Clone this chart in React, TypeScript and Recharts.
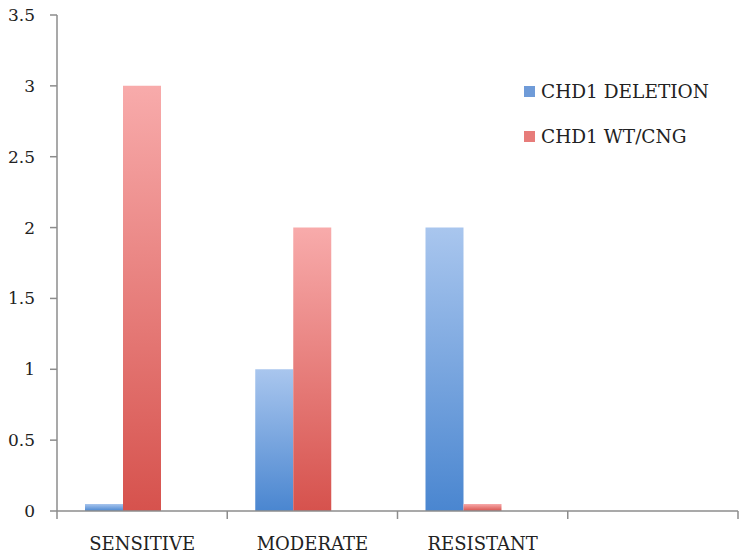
import { Bar, BarChart, Legend, XAxis, YAxis } from "recharts";

const categories = ["SENSITIVE", "MODERATE", "RESISTANT", ""];
const deletionValues = [0.05, 1, 2, null];
const wtCngValues = [3, 2, 0.05, null];
const yTicks = [0, 0.5, 1, 1.5, 2, 2.5, 3, 3.5];

const data = categories.map((name, i) => ({
  name,
  deletion: deletionValues[i],
  wtcng: wtCngValues[i],
  blank: null,
}));

const FONT = "'DejaVu Serif', serif";

// category label plus boundary tick marks (ticks sit between categories)
function CategoryTick(props: any) {
  const { x, y, payload, index } = props;
  const half = payload && payload.offset ? payload.offset : 170.25 / 2;
  return (
    <g>
      {index === 0 && (
        <line x1={x - half} y1={y - 8} x2={x - half} y2={y} stroke="#8c8c8c" strokeWidth={1.5} />
      )}
      <line x1={x + half} y1={y - 8} x2={x + half} y2={y} stroke="#8c8c8c" strokeWidth={1.5} />
      <text x={x} y={y + 31} textAnchor="middle" fill="#222" fontSize={18} fontFamily={FONT}>
        {payload.value}
      </text>
    </g>
  );
}

function LegendBox() {
  const items = [
    { label: "CHD1 DELETION", color: "#6f9bd8" },
    { label: "CHD1 WT/CNG", color: "#e77c7a" },
  ];
  return (
    <div style={{ fontFamily: FONT, fontSize: 18.5, color: "#222" }}>
      {items.map((it) => (
        <div key={it.label} style={{ display: "flex", alignItems: "center", height: 45 }}>
          <span style={{ width: 11, height: 11, background: it.color, marginRight: 6, display: "inline-block" }} />
          {it.label}
        </div>
      ))}
    </div>
  );
}

export default function App() {
  return (
    <div style={{ position: "absolute", left: 0, top: 0, background: "#fff" }}>
      <BarChart
        width={750}
        height={555}
        data={data}
        margin={{ top: 15, right: 12, left: 0, bottom: 0 }}
        barGap={0}
      >
        <defs>
          <linearGradient id="blueGrad" x1="0" y1="0" x2="0" y2="1">
            <stop offset="0%" stopColor="#a9c6ee" />
            <stop offset="100%" stopColor="#4a86d0" />
          </linearGradient>
          <linearGradient id="redGrad" x1="0" y1="0" x2="0" y2="1">
            <stop offset="0%" stopColor="#f8abab" />
            <stop offset="100%" stopColor="#d6524d" />
          </linearGradient>
        </defs>
        <XAxis
          dataKey="name"
          height={44}
          axisLine={{ stroke: "#8c8c8c", strokeWidth: 1.5 }}
          tickLine={false}
          tick={<CategoryTick />}
          interval={0}
        />
        <YAxis
          width={57}
          domain={[0, 3.5]}
          ticks={yTicks}
          interval={0}
          axisLine={{ stroke: "#8c8c8c", strokeWidth: 1.5 }}
          tickLine={{ stroke: "#8c8c8c", strokeWidth: 1.5 }}
          tickSize={7}
          tickMargin={15}
          tick={{ fill: "#222", fontSize: 17, fontFamily: FONT }}
        />
        <Legend
          layout="vertical"
          verticalAlign="middle"
          align="center"
          content={<LegendBox />}
          wrapperStyle={{ top: 69, left: 524, width: 220 }}
        />
        <Bar dataKey="deletion" fill="url(#blueGrad)" barSize={38} isAnimationActive={false} />
        <Bar dataKey="wtcng" fill="url(#redGrad)" barSize={38} isAnimationActive={false} />
        <Bar dataKey="blank" fill="none" barSize={38} legendType="none" isAnimationActive={false} />
      </BarChart>
    </div>
  );
}
